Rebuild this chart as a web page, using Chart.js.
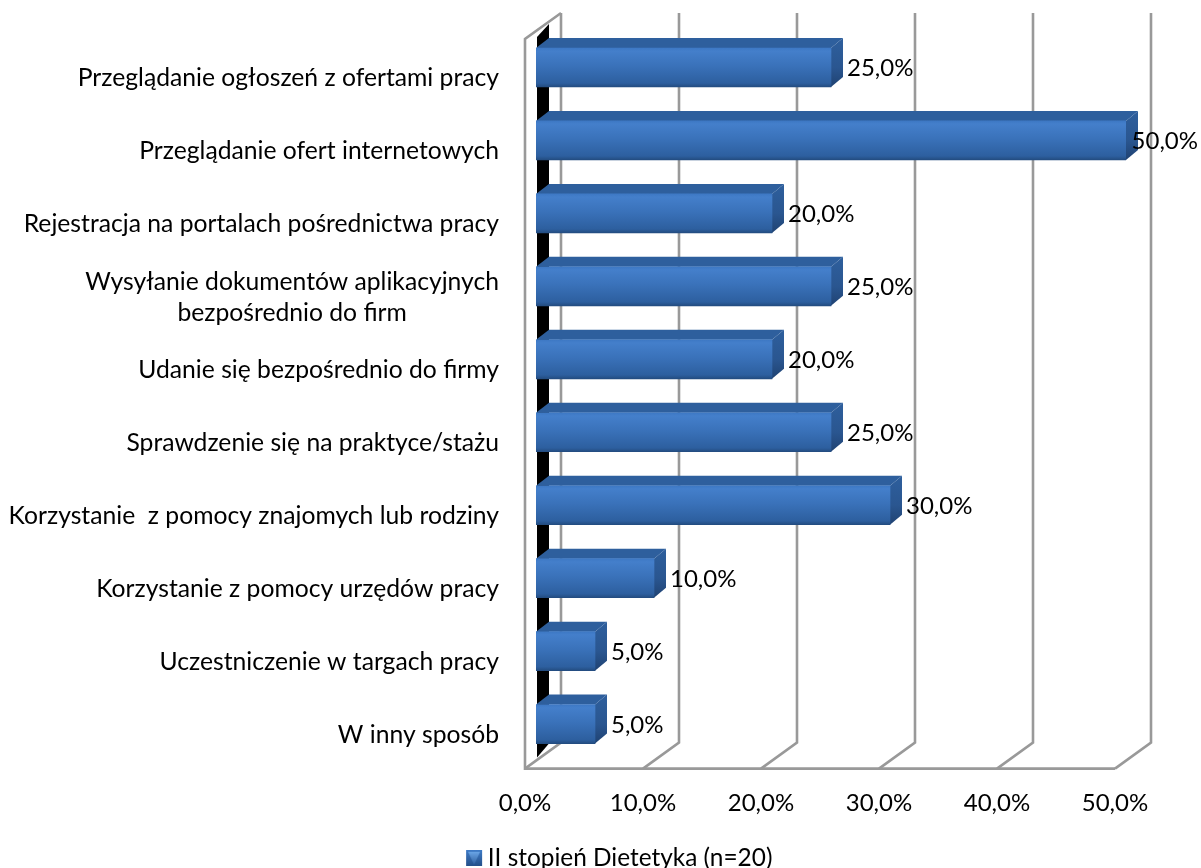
<!DOCTYPE html>
<html>
<head>
<meta charset="utf-8">
<script src="https://cdn.jsdelivr.net/npm/chart.js@4"></script>
<style>
  html, body { margin: 0; padding: 0; background: #fff; }
  canvas { display: block; }
</style>
</head>
<body>
<canvas id="barChart" width="1201" height="868"></canvas>
<script>
const categories = [
    ['Przeglądanie ogłoszeń z ofertami pracy'],
    ['Przeglądanie ofert internetowych'],
    ['Rejestracja na portalach pośrednictwa pracy'],
    ['Wysyłanie dokumentów aplikacyjnych', 'bezpośrednio do firm'],
    ['Udanie się bezpośrednio do firmy'],
    ['Sprawdzenie się na praktyce/stażu'],
    ['Korzystanie  z pomocy znajomych lub rodziny'],
    ['Korzystanie z pomocy urzędów pracy'],
    ['Uczestniczenie w targach pracy'],
    ['W inny sposób']
];
const values = [25, 50, 20, 25, 20, 25, 30, 10, 5, 5];
const seriesName = 'II stopień Dietetyka (n=20)';

const FONT = 'Lato, Carlito, sans-serif';
const fontSize = 24.7;
const valueFontSize = 24;
const legendFontSize = 24.4;
const percent = v => Number(v).toFixed(1).replace('.', ',') + '%';

// small 3D square for the legend, the sides of the canvas stay empty
const legendIcon = document.createElement('canvas');
legendIcon.width = 22;
legendIcon.height = 16;
{
    const c = legendIcon.getContext('2d');
    const side = c.createLinearGradient(0, 0, 0, 16);
    side.addColorStop(0, '#3f7cc8');
    side.addColorStop(1, '#24508a');
    c.fillStyle = side;
    c.fillRect(2, 0, 16, 16);
    const g = c.createLinearGradient(0, 2, 0, 16);
    g.addColorStop(0, '#6aa5e6');
    g.addColorStop(1, '#2a5a9a');
    c.fillStyle = g;
    c.beginPath();
    c.moveTo(4, 2); c.lineTo(16, 2); c.lineTo(10, 15);
    c.closePath();
    c.fill();
}

const frontGradient = (ctx, top, bottom) => {
    const g = ctx.createLinearGradient(0, top, 0, bottom);
    g.addColorStop(0, '#3d78c4');
    g.addColorStop(0.08, '#447fcb');
    g.addColorStop(0.45, '#3a72ba');
    g.addColorStop(0.9, '#2d5f9f');
    g.addColorStop(1, '#234c80');
    return g;
};

const BAR_H = 39;

// walls, floor and black strip behind the bars
const wallPlugin = {
    id: 'wall',
    beforeDatasetsDraw(chart) {
        const { ctx, chartArea, scales: { x } } = chart;
        const top = chartArea.top, bottom = chartArea.bottom;
        ctx.save();
        ctx.strokeStyle = '#999999';
        ctx.lineWidth = 2.6;
        const line = (pts) => {
            ctx.beginPath();
            pts.forEach((p, i) => i ? ctx.lineTo(p[0], p[1]) : ctx.moveTo(p[0], p[1]));
            ctx.stroke();
        };
        x.ticks.forEach(t => {
            const px = x.getPixelForValue(t.value);
            // back wall line and floor diagonal
            line([[px + 25, top - 18], [px + 25, bottom - 18], [px - 11, bottom + 8]]);
        });
        const x0 = x.getPixelForValue(0);
        const x50 = x.getPixelForValue(50);
        line([[x0 + 25, top - 18], [x0 - 11, top + 8], [x0 - 11, bottom + 8], [x50 - 11, bottom + 8]]);

        ctx.fillStyle = '#000';
        ctx.beginPath();
        ctx.moveTo(x0 + 1, top + 6);
        ctx.lineTo(x0 + 13, top - 7);
        ctx.lineTo(x0 + 13, bottom - 17);
        ctx.lineTo(x0 + 1, bottom - 3);
        ctx.closePath();
        ctx.fill();

        // top and side faces of the bars
        chart.getDatasetMeta(0).data.forEach(bar => {
            const y0 = bar.y - BAR_H / 2, y1 = bar.y + BAR_H / 2;
            ctx.fillStyle = '#2e5f9d';
            ctx.beginPath();
            ctx.moveTo(x0, y0);
            ctx.lineTo(x0 + 13, y0 - 10);
            ctx.lineTo(bar.x + 12, y0 - 10);
            ctx.lineTo(bar.x, y0);
            ctx.closePath();
            ctx.fill();
            const g = ctx.createLinearGradient(0, y0 - 10, 0, y1);
            g.addColorStop(0, '#2e5f9d');
            g.addColorStop(0.6, '#2a5690');
            g.addColorStop(1, '#1f4272');
            ctx.fillStyle = g;
            ctx.beginPath();
            ctx.moveTo(bar.x, y0);
            ctx.lineTo(bar.x + 12, y0 - 10);
            ctx.lineTo(bar.x + 12, y1 - 10);
            ctx.lineTo(bar.x, y1);
            ctx.closePath();
            ctx.fill();
        });
        ctx.restore();
    }
};

// category labels (second line is centred under the first) and value labels
const labelPlugin = {
    id: 'labels',
    afterDatasetsDraw(chart) {
        const { ctx, width, scales: { y } } = chart;
        ctx.save();
        ctx.font = fontSize + 'px ' + FONT;
        ctx.fillStyle = '#000';
        ctx.textBaseline = 'middle';
        categories.forEach((lines, i) => {
            const cy = y.getPixelForTick(i) + 11;
            const w = Math.max(...lines.map(l => ctx.measureText(l).width));
            ctx.textAlign = 'center';
            lines.forEach((l, k) => {
                ctx.fillText(l, 499 - w / 2, cy + (k - (lines.length - 1) / 2) * 31);
            });
        });
        ctx.font = valueFontSize + 'px ' + FONT;
        ctx.textAlign = 'left';
        chart.getDatasetMeta(0).data.forEach((bar, i) => {
            const text = percent(values[i]);
            const tx = Math.min(bar.x + 16, width - ctx.measureText(text).width - 3);
            ctx.fillText(text, tx, bar.y + 1);
        });
        ctx.restore();
    }
};

// the legend sits lower than the layout would put it
const legendShift = {
    id: 'legendShift',
    afterLayout(chart) {
        chart.legend.top += 12;
        chart.legend.bottom += 12;
    }
};

const ctx = document.getElementById('barChart').getContext('2d');
window.barChart = new Chart(ctx, {
    type: 'bar',
    data: {
        labels: categories,
        datasets: [{
            label: seriesName,
            data: values,
            barThickness: BAR_H,
            backgroundColor: c => {
                const y = c.chart.scales.y;
                if (!y) return '#3a72ba';
                const mid = y.getPixelForTick(c.dataIndex);
                return frontGradient(c.chart.ctx, mid - BAR_H / 2, mid + BAR_H / 2);
            }
        }]
    },
    options: {
        indexAxis: 'y',
        responsive: false,
        animation: false,
        layout: { padding: { left: 46, right: 0, top: 31, bottom: 0 } },
        scales: {
            x: {
                min: 0,
                max: 50,
                ticks: {
                    stepSize: 10,
                    labelOffset: -11,
                    padding: 20,
                    maxRotation: 0,
                    color: '#000',
                    font: { family: FONT, size: valueFontSize },
                    callback: v => percent(v)
                },
                grid: { display: false },
                border: { display: false },
                afterFit: scale => {
                    scale.height = 70;
                    scale.paddingRight = 75;
                }
            },
            y: {
                ticks: { display: false },
                grid: { display: false },
                border: { display: false },
                afterFit: scale => { scale.width = 490; }
            }
        },
        plugins: {
            tooltip: { enabled: false },
            legend: {
                position: 'bottom',
                labels: {
                    color: '#000',
                    font: { family: FONT, size: legendFontSize },
                    usePointStyle: true,
                    pointStyleWidth: 1,
                    padding: 3,
                    generateLabels: chart => [{
                        text: seriesName,
                        pointStyle: legendIcon,
                        datasetIndex: 0,
                        fillStyle: '#3a72ba',
                        lineWidth: 0
                    }]
                }
            }
        }
    },
    plugins: [legendShift, wallPlugin, labelPlugin]
});
</script>
</body>
</html>
